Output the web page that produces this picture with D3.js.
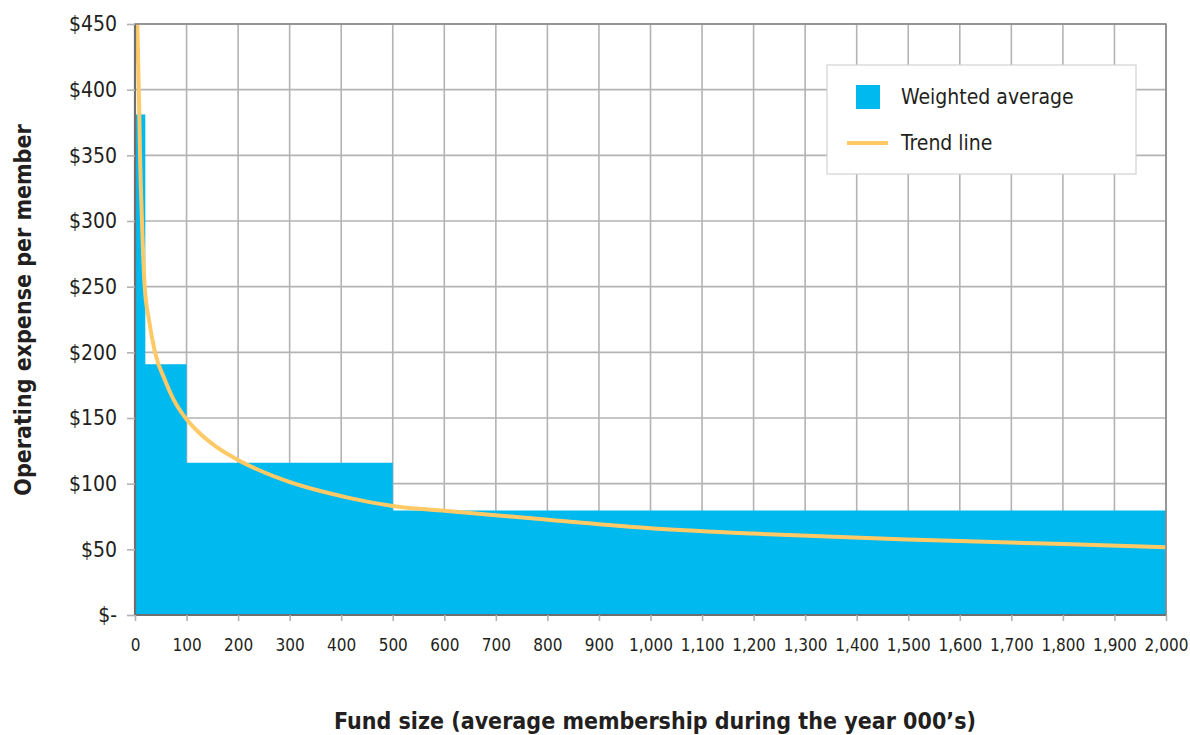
<!DOCTYPE html>
<html>
<head>
<meta charset="utf-8">
<script src="https://cdn.jsdelivr.net/npm/d3@7"></script>
<style>
  html, body { margin: 0; padding: 0; background: #fff; }
  svg text { font-family: "Liberation Sans Narrow", "DejaVu Sans Condensed", "Roboto", sans-serif; fill: #231f20; }
</style>
</head>
<body>
<svg id="chart" width="1190" height="735"></svg>
<script>
// Weighted average operating expense per member, by fund-size band (000's members)
const bandStart = [0, 20, 100, 500];
const bandEnd = [20, 100, 500, 2000];
const bandValue = [381, 191, 116, 79.5];

// Trend line readings (fund size, expense)
const trendX = [4.5, 8.4, 9.7, 13, 18.8, 27, 38.8, 58, 75, 97, 120, 158, 210, 287, 417, 500, 611, 805, 1000, 1200, 1484, 1800, 2000];
const trendY = [450, 381, 352, 306, 250, 225, 200, 179, 164, 150.5, 140.5, 128, 116, 103, 89, 83, 79, 72.4, 66, 62, 57.6, 54, 51.6];

const xTicks = d3.range(0, 2001, 100);
const yTicks = [0, 50, 100, 150, 200, 250, 300, 350, 400, 450];

const blue = "#00b9ef";
const orange = "#ffc966";
const gridColor = "#b3b3b5";

const svg = d3.select("#chart");
const m = { left: 135, right: 1166, top: 24, bottom: 615 };

const x = d3.scaleLinear().domain([0, 2000]).range([m.left, m.right]);
const y = d3.scaleLinear().domain([0, 450]).range([m.bottom, m.top]);

// grid
const grid = svg.append("g");
grid.selectAll("line.v").data(xTicks.slice(1)).join("line")
  .attr("x1", d => x(d)).attr("x2", d => x(d))
  .attr("y1", m.top).attr("y2", m.bottom)
  .attr("stroke", gridColor).attr("stroke-width", 1.6);
grid.selectAll("line.h").data(yTicks.slice(1)).join("line")
  .attr("x1", m.left).attr("x2", m.right)
  .attr("y1", d => y(d)).attr("y2", d => y(d))
  .attr("stroke", gridColor).attr("stroke-width", 1.6);

// step bars drawn as one stepped area so the bands join without seams
const steps = bandStart.map((s, i) => [s, bandValue[i]]);
steps.push([bandEnd[bandEnd.length - 1], bandValue[bandValue.length - 1]]);
svg.append("path")
  .datum(steps)
  .attr("fill", blue)
  .attr("d", d3.area().x(d => x(d[0])).y0(y(0)).y1(d => y(d[1])).curve(d3.curveStepAfter));

// trend line
const trend = trendX.map((v, i) => [v, trendY[i]]);
svg.append("path")
  .datum(trend)
  .attr("fill", "none")
  .attr("stroke", orange)
  .attr("stroke-width", 4)
  .attr("d", d3.line().x(d => x(d[0])).y(d => y(d[1])).curve(d3.curveMonotoneX));

// frame
svg.append("rect")
  .attr("x", m.left).attr("y", m.top)
  .attr("width", m.right - m.left).attr("height", m.bottom - m.top)
  .attr("fill", "none").attr("stroke", "#8a8a8c").attr("stroke-width", 1.6);
svg.append("line").attr("x1", m.left).attr("x2", m.left).attr("y1", m.top).attr("y2", m.bottom)
  .attr("stroke", "#6d6e70").attr("stroke-width", 2.2);
svg.append("line").attr("x1", m.left).attr("x2", m.right).attr("y1", m.bottom).attr("y2", m.bottom)
  .attr("stroke", "#6d6e70").attr("stroke-width", 2.2);

// y axis
const yAxis = d3.axisLeft(y).tickValues(yTicks)
  .tickFormat(d => d === 0 ? "$-" : "$" + d)
  .tickSize(8).tickPadding(10);
const gy = svg.append("g").attr("transform", `translate(${m.left},0)`).call(yAxis);
gy.select(".domain").remove();
gy.selectAll(".tick line").attr("stroke", gridColor).attr("stroke-width", 1.6);
gy.selectAll(".tick text").attr("font-size", 21).style("font-family", null);

// x axis
const xAxis = d3.axisBottom(x).tickValues(xTicks)
  .tickFormat(d3.format(",")).tickSize(6).tickPadding(18);
const gx = svg.append("g").attr("transform", `translate(0,${m.bottom})`).call(xAxis);
gx.select(".domain").remove();
gx.selectAll(".tick line").attr("stroke", gridColor).attr("stroke-width", 1.6);
gx.selectAll(".tick text").attr("font-size", 17).style("font-family", null);

// axis titles
svg.append("text")
  .attr("transform", "translate(31,310) rotate(-90)")
  .attr("text-anchor", "middle")
  .attr("font-size", 23).attr("font-weight", "bold")
  .text("Operating expense per member");
svg.append("text")
  .attr("x", 655).attr("y", 729)
  .attr("text-anchor", "middle")
  .attr("font-size", 23).attr("font-weight", "bold")
  .text("Fund size (average membership during the year 000\u2019s)");

// legend
const lg = svg.append("g");
lg.append("rect").attr("x", 827).attr("y", 65).attr("width", 309).attr("height", 109)
  .attr("fill", "#fff").attr("stroke", "#d1d2d4").attr("stroke-width", 1.2);
lg.append("rect").attr("x", 856).attr("y", 85).attr("width", 24).attr("height", 24).attr("fill", blue);
lg.append("line").attr("x1", 847).attr("x2", 888).attr("y1", 143).attr("y2", 143)
  .attr("stroke", orange).attr("stroke-width", 4);
lg.append("text").attr("x", 901).attr("y", 104).attr("font-size", 21).text("Weighted average");
lg.append("text").attr("x", 901).attr("y", 150).attr("font-size", 21).text("Trend line");
</script>
</body>
</html>
